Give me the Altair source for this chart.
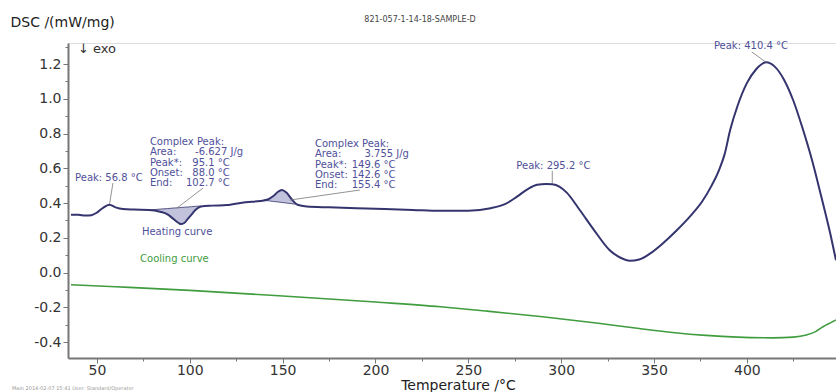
import altair as alt
import pandas as pd

# ---------------- data ----------------
heat_T = [36, 40, 44, 47, 50, 53, 56.8, 60, 64, 70, 78, 84, 88, 91, 94, 95.1, 97, 99, 101, 103,
          106, 112, 120, 130, 138, 142, 145, 147.5, 149.6, 152, 155, 158, 163, 175, 190, 205,
          220, 235, 250, 262, 270, 276, 282, 287, 292, 295.2, 299, 303, 310, 318, 326, 332,
          337, 342, 348, 355, 362, 370, 376, 381, 385, 388, 391, 395, 400, 405, 410.4, 415,
          420, 425, 430, 435, 440, 445, 448]
heat_v = [0.333, 0.332, 0.328, 0.330, 0.345, 0.370, 0.390, 0.375, 0.365, 0.362, 0.360, 0.350,
          0.335, 0.310, 0.285, 0.279, 0.285, 0.310, 0.335, 0.360, 0.380, 0.385, 0.388, 0.405,
          0.412, 0.420, 0.440, 0.465, 0.475, 0.460, 0.420, 0.390, 0.380, 0.375, 0.370, 0.365,
          0.360, 0.355, 0.356, 0.370, 0.395, 0.435, 0.480, 0.505, 0.510, 0.508, 0.495, 0.460,
          0.360, 0.240, 0.130, 0.085, 0.068, 0.075, 0.110, 0.170, 0.240, 0.330, 0.410, 0.500,
          0.590, 0.680, 0.820, 0.960, 1.090, 1.170, 1.210, 1.185, 1.110, 0.990, 0.830, 0.650,
          0.440, 0.220, 0.070]

cool_T = [36, 60, 100, 150, 200, 235, 260, 290, 320, 342, 360, 378, 395, 414, 425, 432, 437,
          441, 445, 448]
cool_v = [-0.070, -0.082, -0.103, -0.135, -0.170, -0.197, -0.222, -0.255, -0.292, -0.322,
          -0.345, -0.362, -0.372, -0.376, -0.372, -0.360, -0.340, -0.312, -0.290, -0.273]

# complex peak 1 (endothermic dip) : curve and its baseline
cp1_T = [78.5, 84, 88, 91, 94, 95.1, 97, 99, 101, 103, 106]
cp1_curve = [0.360, 0.350, 0.335, 0.310, 0.285, 0.279, 0.285, 0.310, 0.335, 0.360, 0.380]
cp1_base = [0.360, 0.365, 0.368, 0.371, 0.373, 0.374, 0.376, 0.377, 0.379, 0.381, 0.383]

# complex peak 2
cp2_T = [141, 142, 145, 147.5, 149.6, 152, 155, 157]
cp2_curve = [0.414, 0.420, 0.440, 0.465, 0.475, 0.460, 0.420, 0.393]
cp2_base = [0.414, 0.413, 0.409, 0.406, 0.403, 0.400, 0.396, 0.393]

# annotation blocks
block_labels = ["Area:", "Peak*:", "Onset:", "End:"]
block1_values = ["-6.627 J/g", "95.1 °C", "88.0 °C", "102.7 °C"]
block2_values = ["3.755 J/g", "149.6 °C", "142.6 °C", "155.4 °C"]
block1_anchor = dict(T=78.5, dec=108.2, rows=[0.754, 0.694, 0.632, 0.571, 0.513])
block2_anchor = dict(T=167.4, dec=197.5, rows=[0.742, 0.682, 0.619, 0.561, 0.504])

peak_labels = ["Peak: 56.8 °C", "Peak: 295.2 °C", "Peak: 410.4 °C"]
peak_T = [38.2, 295.8, 402.2]
peak_v = [0.544, 0.613, 1.304]
peak_align = ["left", "center", "center"]

lead_T = [58.6, 107.1, 191.6, 295.2, 402.7]
lead_v = [0.515, 0.486, 0.475, 0.585, 1.269]
lead_T2 = [56.8, 93.1, 153.9, 295.2, 410.4]
lead_v2 = [0.395, 0.371, 0.417, 0.510, 1.210]

x_major = [50, 100, 150, 200, 250, 300, 350, 400]
x_all = list(range(50, 450, 25))
y_all = [round(-0.4 + 0.1 * i, 1) for i in range(18)]

X_DOM = [34.4, 448.0]
Y_DOM = [-0.492, 1.321]

NAVY = "#34346e"
ANN = "#50509a"
GREEN = "#3f9c3f"
FONT = "DejaVu Sans"

# ---------------- frames ----------------
heat = pd.DataFrame({"T": heat_T, "v": heat_v})
cool = pd.DataFrame({"T": cool_T, "v": cool_v})
cp = pd.concat([
    pd.DataFrame({"T": cp1_T, "v": cp1_curve, "b": cp1_base, "g": "cp1"}),
    pd.DataFrame({"T": cp2_T, "v": cp2_curve, "b": cp2_base, "g": "cp2"}),
])

left_rows, right_rows = [], []
for anchor, values in [(block1_anchor, block1_values), (block2_anchor, block2_values)]:
    left_rows.append({"t": "Complex Peak:", "T": anchor["T"], "v": anchor["rows"][0]})
    for lab, val, row in zip(block_labels, values, anchor["rows"][1:]):
        left_rows.append({"t": lab, "T": anchor["T"], "v": row})
        ipart, fpart = val.split(".", 1)
        right_rows.append({"t": ipart, "T": anchor["dec"], "v": row})
        left_rows.append({"t": "." + fpart, "T": anchor["dec"], "v": row})
for lab, t, v, a in zip(peak_labels, peak_T, peak_v, peak_align):
    if a == "left":
        left_rows.append({"t": lab, "T": t, "v": v})
left_rows.append({"t": "Heating curve", "T": 74.2, "v": 0.233})
center_rows = [{"t": lab, "T": t, "v": v} for lab, t, v, a in
               zip(peak_labels, peak_T, peak_v, peak_align) if a == "center"]

left_df = pd.DataFrame(left_rows)
right_df = pd.DataFrame(right_rows)
center_df = pd.DataFrame(center_rows)
green_df = pd.DataFrame([{"t": "Cooling curve", "T": 73.2, "v": 0.078}])
lead_df = pd.DataFrame({"T": lead_T, "v": lead_v, "T2": lead_T2, "v2": lead_v2})

# ---------------- scales / axes ----------------
xs = alt.Scale(domain=X_DOM, nice=False, zero=False)
ys = alt.Scale(domain=Y_DOM, nice=False, zero=False)

x_axis = alt.Axis(
    values=x_all,
    labelExpr="datum.value % 50 == 0 ? datum.label : ''",
    tickSize=alt.condition("datum.value % 50 == 0", alt.value(5), alt.value(3)),
    title="Temperature /°C", titleFontSize=14, titleFontWeight="normal",
    titleColor="#222", titleY=27, titleBaseline="middle", titleX=390,
    labelFontSize=14, labelColor="#333", labelPadding=0,
    domainColor="#777", domainWidth=2, tickColor="#777", tickWidth=1,
    grid=False, labelFlush=False,
)
y_axis = alt.Axis(
    values=y_all,
    labelExpr="round(datum.value*10) % 2 == 0 ? (datum.value < 0 ? '-' : '') + format(abs(datum.value), '.1f') : ''",
    tickSize=alt.condition("round(datum.value*10) % 2 == 0", alt.value(5), alt.value(3)),
    title="DSC /(mW/mg)", titleAngle=0, titleAlign="left", titleX=-58, titleY=-21,
    titleBaseline="middle", titleFontSize=14, titleFontWeight="normal", titleColor="#222",
    labelFontSize=14, labelColor="#333", labelPadding=2,
    domainColor="#777", domainWidth=2, tickColor="#777", tickWidth=1,
    grid=False, labelFlush=False,
)

base_x = alt.X("T:Q", scale=xs, axis=x_axis)
base_y = alt.Y("v:Q", scale=ys, axis=y_axis)

areas = alt.Chart(cp).mark_area(color="#8f8fc0", opacity=0.55, clip=True,
                                interpolate="monotone").encode(
    x=alt.X("T:Q", scale=xs, axis=x_axis), y=alt.Y("v:Q", scale=ys, axis=y_axis),
    y2="b:Q", detail="g:N")

baselines = alt.Chart(cp).mark_line(color=NAVY, strokeWidth=0.8, clip=True).encode(
    x=alt.X("T:Q", scale=xs, axis=x_axis), y=alt.Y("b:Q", scale=ys, axis=y_axis),
    detail="g:N")

heat_line = alt.Chart(heat).mark_line(color=NAVY, strokeWidth=2, clip=True,
                                      interpolate="monotone").encode(x=base_x, y=base_y)
cool_line = alt.Chart(cool).mark_line(color=GREEN, strokeWidth=1.6, clip=True,
                                      interpolate="monotone").encode(x=base_x, y=base_y)

leads = alt.Chart(lead_df).mark_rule(color="#777", strokeWidth=0.8).encode(
    x=alt.X("T:Q", scale=xs, axis=x_axis), y=alt.Y("v:Q", scale=ys, axis=y_axis),
    x2="T2:Q", y2="v2:Q")

def txt(df, align, color):
    return alt.Chart(df).mark_text(align=align, baseline="middle", font=FONT,
                                   fontSize=10, color=color).encode(
        x=alt.X("T:Q", scale=xs, axis=x_axis), y=alt.Y("v:Q", scale=ys, axis=y_axis),
        text="t:N")

t_left = txt(left_df, "left", ANN)
t_right = txt(right_df, "right", ANN)
t_center = txt(center_df, "center", ANN)
t_green = txt(green_df, "left", GREEN)

header = pd.DataFrame({"t": ["821-057-1-14-18-SAMPLE-D"]})
title_mark = alt.Chart(header).mark_text(font=FONT, fontSize=8, color="#444",
                                         align="center", baseline="middle").encode(
    text="t:N", x=alt.value(352), y=alt.value(-23))
exo = alt.Chart(pd.DataFrame({"t": ["↓ exo"]})).mark_text(
    font=FONT, fontSize=13, color="#333", align="left", baseline="middle").encode(
    text="t:N", x=alt.value(10), y=alt.value(6))
footer = alt.Chart(pd.DataFrame({"t": ["Main    2014-02-07 15:41    User: Standard/Operator"]})).mark_text(
    font=FONT, fontSize=5, color="#999", align="left", baseline="middle").encode(
    text="t:N", x=alt.value(-56), y=alt.value(345))

chart = alt.layer(
    areas, baselines, heat_line, cool_line, leads,
    t_left, t_right, t_center, t_green, title_mark, exo, footer,
).properties(
    width=768, height=315,
    autosize=alt.AutoSizeParams(type="none"),
    padding={"left": 68, "top": 43, "right": 0, "bottom": 34},
    background="white",
).configure_view(stroke=None).configure(font=FONT)

chart.save("out.html", embed_options={"renderer": "svg", "actions": False})
